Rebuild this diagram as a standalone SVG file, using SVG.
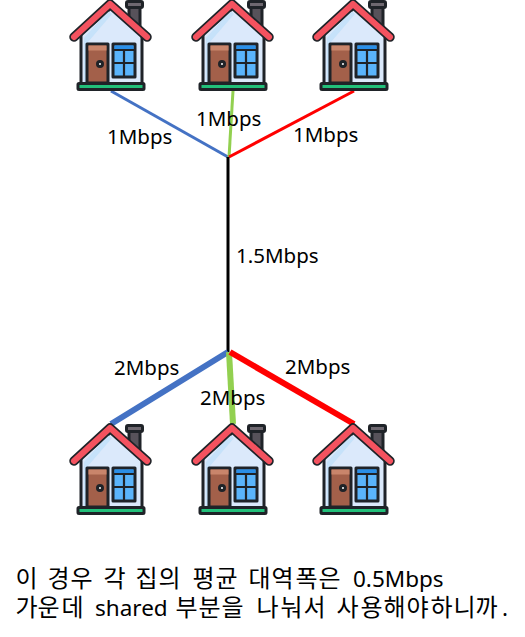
<svg xmlns="http://www.w3.org/2000/svg" width="525" height="637" viewBox="0 0 525 637">
<style>
text{font-family:"Noto Sans","Noto Sans CJK KR",sans-serif;font-size:20.500px;fill:#000}
.cap{font-size:22.500px}
.ko{font-family:"Noto Sans CJK KR","Noto Sans",sans-serif;font-size:24px}
.o{stroke:#1f2328;stroke-width:3;stroke-linejoin:round;stroke-linecap:round}
.c{fill:none;stroke-linecap:butt}
</style>
<defs>
<symbol id="house" viewBox="-45 0 90 92" width="90" height="92" overflow="visible">
<rect class="o" x="19" y="6" width="11" height="22" fill="#57525a"/>
<rect class="o" x="16.500" y="1.500" width="16" height="6" rx="1.500" fill="#6e6870"/>
<path class="o" d="M-29 34V84H32V34L1 8Z" fill="#dbe9fb"/>
<path d="M-26 38V82H-22V42L2 14L-2 11Z" fill="#c6e2fa"/>
<rect class="o" x="-23" y="44" width="21" height="39" fill="#a3604a"/>
<rect x="-21.500" y="45.500" width="18" height="5" fill="#c9856b"/>
<circle class="o" cx="-10" cy="64" r="2.500" fill="#fff"/>
<rect class="o" x="3" y="44" width="22" height="33" fill="#5ab4fb"/>
<path d="M4.500 45.500H23.500V50H4.500Z" fill="#2a8fe8"/>
<path d="M3 50H25M14 50V77M3 63H25" stroke="#1f2328" stroke-width="2.200" fill="none"/>
<path d="M-36 37L0 4L37 37" fill="none" stroke="#1f2328" stroke-width="9.500" stroke-linecap="round" stroke-linejoin="round"/>
<path d="M-36 37L0 4L37 37" fill="none" stroke="#f4525f" stroke-width="6" stroke-linecap="round" stroke-linejoin="round"/>
<rect class="o" x="-32" y="83.500" width="66" height="6" rx="1" fill="#22c07a"/>
</symbol>
</defs>
<g id="connectors" class="c">
<path d="M111 91L228 157" stroke="#4472c4" stroke-width="3"/>
<path d="M233 91L229 157" stroke="#92d050" stroke-width="3"/>
<path d="M354 91L229 157" stroke="#ff0000" stroke-width="3"/>
<path d="M228 157V352" stroke="#000" stroke-width="3"/>
<path d="M111 424L228 352" stroke="#4472c4" stroke-width="6"/>
<path d="M229 352L233 424" stroke="#92d050" stroke-width="6"/>
<path d="M230 352L354 424" stroke="#ff0000" stroke-width="6"/>
</g>
<g id="house-top-1"><use href="#house" x="65" y="0"/></g>
<g id="house-top-2"><use href="#house" x="187" y="0"/></g>
<g id="house-top-3"><use href="#house" x="308" y="0"/></g>
<g id="house-bottom-1"><use href="#house" x="65" y="424"/></g>
<g id="house-bottom-2"><use href="#house" x="187" y="424"/></g>
<g id="house-bottom-3"><use href="#house" x="308" y="424"/></g>
<g id="labels">
<text x="107" y="144">1Mbps</text>
<text x="196" y="126">1Mbps</text>
<text x="293" y="142">1Mbps</text>
<text x="236" y="263">1.5Mbps</text>
<text x="114" y="375">2Mbps</text>
<text x="200" y="405">2Mbps</text>
<text x="285" y="374">2Mbps</text>
</g>
<g id="caption">
<text class="cap" y="587"><tspan class="ko" x="15.500 47.500 70.500 103.500 135.500 158.500 192.500 215.500 248.500 271.500 295.500 318.500" y="587">이경우각집의평균대역폭은</tspan><tspan x="353" y="587">0.5Mbps</tspan></text>
<text class="cap" y="616"><tspan class="ko" x="15.500 37.500 61.500" y="616">가운데</tspan><tspan x="95" y="616">shared</tspan><tspan class="ko" x="175.500 198.500 221.500 256.500 280.500 303.500 336.500 360.500 383.500 406.500 430.500 453.500 475.500" y="616">부분을나눠서사용해야하니까</tspan><tspan x="502" y="616">.</tspan></text>
</g>
</svg>
